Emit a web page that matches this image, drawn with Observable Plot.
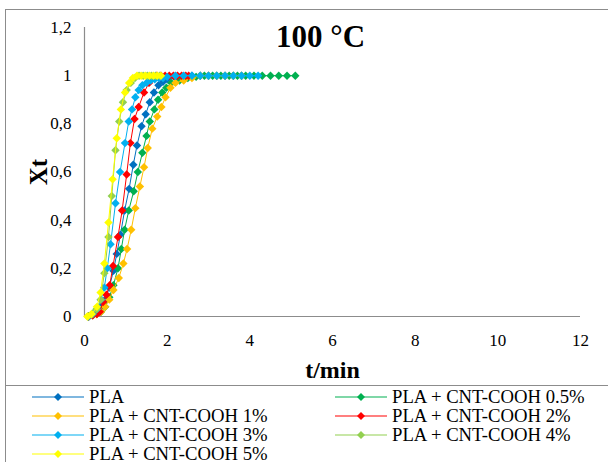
<!DOCTYPE html>
<html>
<head>
<meta charset="utf-8">
<script src="https://cdn.jsdelivr.net/npm/d3@7"></script>
<script src="https://cdn.jsdelivr.net/npm/@observablehq/plot@0.6"></script>
<style>
  html, body { margin: 0; padding: 0; background: #fff; }
  body { width: 608px; height: 462px; position: relative; overflow: hidden; font-family: "Liberation Serif", "Times New Roman", serif; }
  #frame { position: absolute; left: 5px; top: 9px; width: 640px; height: 500px; border: 1px solid #8c8c8c; box-sizing: border-box; }
  #chart { position: absolute; left: 0; top: 0; }
  #chart svg text { font-family: "Liberation Serif", "Times New Roman", serif; }
  #legend { position: absolute; left: 5px; top: 385px; width: 640px; height: 100px; border: 1px solid #8c8c8c; box-sizing: border-box; }
  .item { position: absolute; height: 18px; display: flex; align-items: center; font-size: 18.7px; line-height: 18px; color: #000; white-space: nowrap; }
  .item svg { margin-right: 4px; }
</style>
</head>
<body>
<div id="frame"></div>
<div id="chart"></div>
<div id="legend"></div>
<script>
// ---- data ----
const seriesNames = ["PLA", "PLA + CNT-COOH 0.5%", "PLA + CNT-COOH 1%", "PLA + CNT-COOH 2%", "PLA + CNT-COOH 3%", "PLA + CNT-COOH 4%", "PLA + CNT-COOH 5%"];
const seriesColors = ["#0070C0", "#00B050", "#FFC000", "#FF0000", "#00B0F0", "#92D050", "#FFFF00"];

const tPLA = [0.1,0.2,0.3,0.4,0.5,0.6,0.7,0.78,0.87,0.97,1.08,1.18,1.27,1.38,1.48,1.58,1.68,1.79,1.9,2.0,2.2,2.4,2.6,2.8,3.0,3.2,3.4,3.6,3.8];
const xPLA = [0,0.01,0.02,0.04,0.07,0.12,0.19,0.26,0.34,0.44,0.53,0.63,0.71,0.79,0.84,0.89,0.93,0.96,0.975,0.985,0.99,0.995,1,1,1,1,1,1,1];

const t05 = [0.1,0.2,0.3,0.4,0.5,0.6,0.7,0.81,0.89,0.97,1.07,1.19,1.29,1.4,1.5,1.58,1.69,1.78,1.88,1.98,2.1,2.3,2.5,2.7,2.9,3.1,3.3,3.5,3.7,3.9,4.1,4.3,4.5,4.7,4.9,5.1];
const x05 = [0,0.005,0.01,0.02,0.04,0.08,0.13,0.2,0.28,0.36,0.44,0.52,0.6,0.68,0.75,0.81,0.86,0.9,0.93,0.95,0.97,0.98,0.99,0.995,1,1,1,1,1,1,1,1,1,1,1,1];

const t1 = [0.1,0.2,0.3,0.4,0.5,0.6,0.7,0.83,0.94,1.03,1.13,1.23,1.34,1.44,1.53,1.64,1.76,1.86,1.96,2.08,2.2,2.4,2.6,2.8,3.0,3.2,3.4,3.6,3.8];
const x1 = [0,0.005,0.01,0.02,0.04,0.07,0.11,0.16,0.22,0.28,0.36,0.45,0.54,0.62,0.7,0.78,0.83,0.87,0.91,0.95,0.97,0.98,0.99,1,1,1,1,1,1];

const t2 = [0.1,0.2,0.3,0.37,0.45,0.53,0.61,0.69,0.81,0.91,1.02,1.11,1.21,1.31,1.44,1.56,1.65,1.75,1.85,1.95,2.05,2.15,2.25,2.35,2.45,2.52];
const x2 = [0,0.005,0.01,0.02,0.06,0.09,0.13,0.21,0.33,0.44,0.59,0.72,0.82,0.87,0.93,0.97,0.99,1,1,1,1,1,1,1,1,1];

const t3 = [0.1,0.2,0.3,0.4,0.48,0.55,0.63,0.75,0.86,0.98,1.07,1.15,1.23,1.31,1.4,1.5,1.6,1.7,1.8,1.9,2.0,2.2,2.4,2.6,2.8,3.0,3.2,3.4,3.6,3.8,4.0,4.2];
const x3 = [0,0.01,0.03,0.07,0.12,0.2,0.3,0.47,0.6,0.72,0.81,0.86,0.91,0.94,0.96,0.97,0.98,0.985,0.99,0.99,0.995,1,1,1,1,1,1,1,1,1,1,1];

const t4 = [0.08,0.18,0.29,0.39,0.48,0.58,0.66,0.75,0.84,0.93,1.02,1.12,1.22,1.32,1.42,1.52,1.62,1.72,1.82];
const x4 = [0,0.01,0.03,0.07,0.18,0.33,0.5,0.69,0.81,0.89,0.94,0.97,0.99,1,1,1,1,1,1];

const t5 = [0.07,0.17,0.3,0.39,0.48,0.58,0.68,0.78,0.88,0.98,1.08,1.17,1.27,1.37,1.47,1.57,1.67,1.76,1.85];
const x5 = [0,0.01,0.04,0.1,0.22,0.39,0.57,0.74,0.86,0.93,0.97,0.99,1,1,1,1,1,1,1];

const xTicks = [0, 2, 4, 6, 8, 10, 12];
const xTickLabels = ["0", "2", "4", "6", "8", "10", "12"];
const yTicks = [0, 0.2, 0.4, 0.6, 0.8, 1, 1.2];
const yTickLabels = ["0", "0,2", "0,4", "0,6", "0,8", "1", "1,2"];

const titleText = "100 °C";
const xTitle = "t/min";
const yTitle = "Xt";

// ---- build table ----
const tArrays = [tPLA, t05, t1, t2, t3, t4, t5];
const xArrays = [xPLA, x05, x1, x2, x3, x4, x5];
const data = [];
seriesNames.forEach((name, i) => {
  tArrays[i].forEach((t, j) => data.push({series: name, t, X: xArrays[i][j]}));
});

const axisColor = "#8c8c8c";
const font = "Liberation Serif";

const marks = [
  Plot.ruleY([0], {stroke: axisColor, strokeWidth: 1.2}),
  Plot.ruleX([0], {stroke: axisColor, strokeWidth: 1.2}),
  Plot.axisX({ticks: xTicks, tickFormat: (d) => xTickLabels[xTicks.indexOf(d)], tickSize: 0, tickPadding: 17, fontSize: 17, label: null}),
  Plot.axisY({ticks: yTicks, tickFormat: (d) => yTickLabels[yTicks.findIndex(v => Math.abs(v - d) < 1e-9)], tickSize: 0, tickPadding: 13, fontSize: 17, label: null}),
];
seriesNames.forEach((name, i) => {
  const sub = data.filter(d => d.series === name);
  marks.push(Plot.line(sub, {x: "t", y: "X", stroke: seriesColors[i], strokeWidth: 1}));
  marks.push(Plot.dot(sub, {x: "t", y: "X", fill: seriesColors[i], stroke: "none", symbol: "diamond2", r: 3.8}));
});
marks.push(Plot.text([titleText], {frameAnchor: "top", dx: -12, dy: -3, fontSize: 31, fontWeight: "bold", fill: "#000"}));
marks.push(Plot.text([xTitle], {frameAnchor: "bottom", dy: 61, fontSize: 24, fontWeight: "bold", fill: "#000"}));
marks.push(Plot.text([yTitle], {frameAnchor: "left", dx: -46, rotate: -90, textAnchor: "middle", fontSize: 25, fontWeight: "bold", fill: "#000"}));

const chart = Plot.plot({
  width: 608,
  height: 385,
  marginLeft: 84,
  marginRight: 28,
  marginTop: 27,
  marginBottom: 69,
  style: {fontFamily: font, color: "#000", background: "transparent", overflow: "visible"},
  x: {domain: [0, 12]},
  y: {domain: [0, 1.2]},
  marks
});
document.getElementById("chart").appendChild(chart);

// ---- legend ----
const legend = document.getElementById("legend");
const legPos = [[26, 2], [329, 2], [26, 21], [329, 21], [26, 40], [329, 40], [26, 58.5]];
seriesNames.forEach((name, i) => {
  const div = document.createElement("div");
  div.className = "item";
  div.style.left = legPos[i][0] + "px";
  div.style.top = legPos[i][1] + "px";
  const ns = "http://www.w3.org/2000/svg";
  const svg = document.createElementNS(ns, "svg");
  svg.setAttribute("width", 53); svg.setAttribute("height", 12);
  const ln = document.createElementNS(ns, "line");
  ln.setAttribute("x1", 0); ln.setAttribute("x2", 52); ln.setAttribute("y1", 6); ln.setAttribute("y2", 6);
  ln.setAttribute("stroke", seriesColors[i]); ln.setAttribute("stroke-width", 1.2);
  const dm = document.createElementNS(ns, "path");
  dm.setAttribute("d", "M26,2L30,6L26,10L22,6Z");
  dm.setAttribute("fill", seriesColors[i]);
  svg.appendChild(ln); svg.appendChild(dm);
  const span = document.createElement("span");
  span.textContent = name;
  div.appendChild(svg); div.appendChild(span);
  legend.appendChild(div);
});
</script>
</body>
</html>
